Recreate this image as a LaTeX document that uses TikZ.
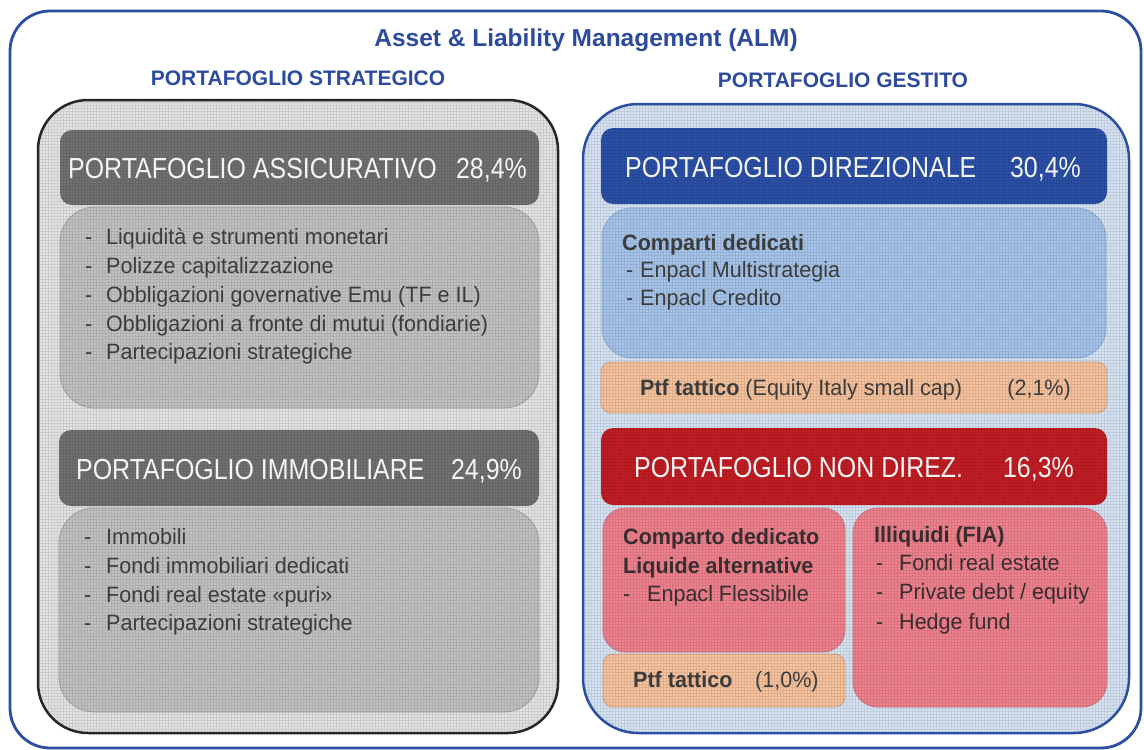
\documentclass[tikz,border=0pt]{standalone}
\usepackage{fontspec}
\setmainfont{Liberation Sans}
\newfontfamily\hdfont[FakeStretch=0.86]{Liberation Sans}
\newfontfamily\bodyfont[FakeStretch=0.97]{Liberation Sans}
\definecolor{frameblue}{HTML}{2B4FA0}
\definecolor{titleblue}{HTML}{2D4B9C}
\definecolor{lgrayfill}{HTML}{E4E4E6}
\definecolor{hgray}{HTML}{707173}
\definecolor{bgray}{HTML}{C2C2C4}
\definecolor{bgrayline}{HTML}{A6A6A8}
\definecolor{rfill}{HTML}{D6E4F4}
\definecolor{hblue}{HTML}{2A50A8}
\definecolor{bblue}{HTML}{A6C5EA}
\definecolor{bblueline}{HTML}{8FAED6}
\definecolor{orng}{HTML}{F8C39E}
\definecolor{orngline}{HTML}{D9A886}
\definecolor{hred}{HTML}{C31D24}
\definecolor{pink}{HTML}{F0828E}
\definecolor{pinkline}{HTML}{D9737F}
\definecolor{txt}{HTML}{3C3C3C}
\definecolor{txtp}{HTML}{3A2D30}
\definecolor{hdtxt}{HTML}{F4F4F4}
\tikzset{
  boxshape/.style={rectangle, inner sep=0pt, outer sep=0pt},
  headtxt/.style={anchor=base west, inner sep=0pt, text=hdtxt, font=\hdfont\fontsize{29}{32}\selectfont},
  headpct/.style={anchor=base east, inner sep=0pt, text=hdtxt, font=\hdfont\fontsize{29}{32}\selectfont},
  item/.style={anchor=base west, inner sep=0pt, text=txt, font=\bodyfont\fontsize{22.2}{26}\selectfont},
  itemb/.style={item, font=\bodyfont\fontsize{22.2}{26}\selectfont\bfseries},
  pitem/.style={item, text=txtp},
  pitemb/.style={itemb, text=txtp},
  gridline/.style={draw=black, draw opacity=0.10, line width=0.3pt},
}
\begin{document}
\begin{tikzpicture}[x=1pt,y=-1pt]
\useasboundingbox (0,0) rectangle (1144,750);
\fill[white] (0,0) rectangle (1144,750);
% outer frame
\node[boxshape, draw=frameblue, line width=2.8pt, rounded corners=40pt, minimum width=1131pt, minimum height=737pt] (outer) at (575.5,379.5) {};
% containers
\node[boxshape, fill=lgrayfill, draw=black!85, line width=2.5pt, rounded corners=50pt, minimum width=520pt, minimum height=633pt] (leftc) at (298,416.5) {};
\node[boxshape, fill=rfill, draw=frameblue, line width=2.5pt, rounded corners=55pt, minimum width=546pt, minimum height=629pt] (rightc) at (856,418.5) {};
% left boxes
\node[boxshape, fill=hgray, rounded corners=12pt, minimum width=479pt, minimum height=75pt] (h1) at (299.5,167.5) {};
\node[boxshape, fill=bgray, draw=bgrayline, line width=0.8pt, rounded corners=35pt, minimum width=479pt, minimum height=201pt] (b1) at (299.5,307.5) {};
\node[boxshape, fill=hgray, rounded corners=12pt, minimum width=480pt, minimum height=76pt] (h2) at (299,468) {};
\node[boxshape, fill=bgray, draw=bgrayline, line width=0.8pt, rounded corners=35pt, minimum width=480pt, minimum height=204pt] (b2) at (299,610) {};
% right boxes
\node[boxshape, fill=hblue, rounded corners=12pt, minimum width=506pt, minimum height=76pt] (hd) at (854,166) {};
\node[boxshape, fill=bblue, draw=bblueline, line width=0.8pt, rounded corners=30pt, minimum width=504pt, minimum height=150pt] (bd) at (854,283) {};
\node[boxshape, fill=orng, draw=orngline, line width=0.8pt, rounded corners=10pt, minimum width=506pt, minimum height=51pt] (ot) at (854,387.5) {};
\node[boxshape, fill=hred, rounded corners=12pt, minimum width=506pt, minimum height=77pt] (hn) at (854,466.5) {};
\node[boxshape, fill=pink, draw=pinkline, line width=0.8pt, rounded corners=22pt, minimum width=242pt, minimum height=144pt] (pl) at (724,580) {};
\node[boxshape, fill=orng, draw=orngline, line width=0.8pt, rounded corners=10pt, minimum width=242pt, minimum height=53pt] (os) at (724,680.5) {};
\node[boxshape, fill=pink, draw=pinkline, line width=0.8pt, rounded corners=25pt, minimum width=254pt, minimum height=199pt] (pr) at (980,607.5) {};
% grid texture
\begin{scope}
\clip[rounded corners=50pt] (39,101) rectangle (557,732);
\draw[gridline] (36,99) grid[step=3pt] (560,735);
\end{scope}
\begin{scope}
\clip[rounded corners=55pt] (584,105) rectangle (1128,732);
\draw[gridline] (582,102) grid[step=3pt] (1131,735);
\end{scope}
% titles
\node[anchor=base, inner sep=0pt, text=titleblue, font=\fontsize{24.5}{28}\selectfont\bfseries] (title) at (586,46.6) {Asset \& Liability Management (ALM)};
\node[anchor=base, inner sep=0pt, text=titleblue, font=\fontsize{21}{24}\selectfont\bfseries] (sub1) at (298,85.5) {PORTAFOGLIO STRATEGICO};
\node[anchor=base, inner sep=0pt, text=titleblue, font=\fontsize{21}{24}\selectfont\bfseries] (sub2) at (843,87.5) {PORTAFOGLIO GESTITO};
% header texts
\node[headtxt] (h1t) at (68,178) {PORTAFOGLIO ASSICURATIVO};
\node[headpct] (h1p) at (527,178) {28,4\%};
\node[headtxt] (h2t) at (76,479) {PORTAFOGLIO IMMOBILIARE};
\node[headpct] (h2p) at (522,479) {24,9\%};
\node[headtxt] (hdt) at (625,177) {PORTAFOGLIO DIREZIONALE};
\node[headpct] (hdp) at (1081,177) {30,4\%};
\node[headtxt] (hnt) at (634,477.5) {PORTAFOGLIO NON DIREZ.};
\node[headpct] (hnp) at (1074,477.5) {16,3\%};
% left body 1
\node[item] (d1a) at (85,244.5) {-};
\node[item] (t1a) at (106,244.5) {Liquidità e strumenti monetari};
\node[item] (d1b) at (85,273.5) {-};
\node[item] (t1b) at (106,273.5) {Polizze capitalizzazione};
\node[item] (d1c) at (85,302.5) {-};
\node[item] (t1c) at (106,302.5) {Obbligazioni governative Emu (TF e IL)};
\node[item] (d1d) at (85,331) {-};
\node[item] (t1d) at (106,331) {Obbligazioni a fronte di mutui (fondiarie)};
\node[item] (d1e) at (85,359.5) {-};
\node[item] (t1e) at (106,359.5) {Partecipazioni strategiche};
% left body 2
\node[item] (d2a) at (84,544.5) {-};
\node[item] (t2a) at (106,544.5) {Immobili};
\node[item] (d2b) at (84,573.5) {-};
\node[item] (t2b) at (106,573.5) {Fondi immobiliari dedicati};
\node[item] (d2c) at (84,602) {-};
\node[item] (t2c) at (106,602) {Fondi real estate «puri»};
\node[item] (d2d) at (84,630.5) {-};
\node[item] (t2d) at (106,630.5) {Partecipazioni strategiche};
% right body direzionale
\node[itemb] (cd) at (622,250.5) {Comparti dedicati};
\node[item] (dda) at (626,277.5) {-};
\node[item] (tda) at (640,277.5) {Enpacl Multistrategia};
\node[item] (ddb) at (626,305.5) {-};
\node[item] (tdb) at (640,305.5) {Enpacl Credito};
% orange bar
\node[item] (ott) at (640,395.5) {\textbf{Ptf tattico} (Equity Italy small cap)};
\node[item, anchor=base east] (otp) at (1071,395.5) {(2,1\%)};
% pink left
\node[pitemb] (pla) at (623,544.5) {Comparto dedicato};
\node[pitemb] (plb) at (623,573.5) {Liquide alternative};
\node[pitem] (pld) at (623,601.5) {-};
\node[pitem] (plc) at (647,601.5) {Enpacl Flessibile};
% orange small
\node[itemb] (ost) at (633,687.5) {Ptf tattico};
\node[item] (osp) at (755,687.5) {(1,0\%)};
% pink right
\node[pitemb] (pra) at (874,542.5) {Illiquidi (FIA)};
\node[pitem] (prd1) at (876,570.5) {-};
\node[pitem] (prb) at (899,570.5) {Fondi real estate};
\node[pitem] (prd2) at (876,599.5) {-};
\node[pitem] (prc) at (899,599.5) {Private debt / equity};
\node[pitem] (prd3) at (876,629.5) {-};
\node[pitem] (pre) at (899,629.5) {Hedge fund};
\end{tikzpicture}
\end{document}
